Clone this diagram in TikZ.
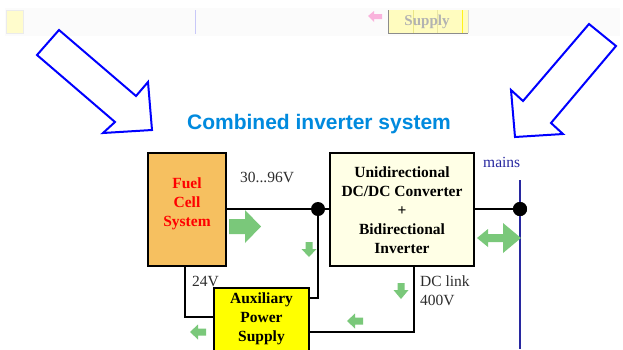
\documentclass[tikz,border=0pt]{standalone}
\usepackage{fontspec}
\setmainfont{Liberation Serif}
\newfontfamily\titlefont{Liberation Sans}
\definecolor{gfill}{RGB}{122,200,122}
\definecolor{fcorange}{RGB}{246,192,96}
\definecolor{cream}{RGB}{255,255,230}
\definecolor{apsyellow}{RGB}{255,255,0}
\definecolor{titleblue}{RGB}{0,138,222}
\definecolor{navy}{RGB}{40,40,160}
\definecolor{lblgray}{RGB}{45,45,45}
\definecolor{lavender}{RGB}{200,200,248}
\tikzset{
  boxnode/.style={draw=black, line width=1.2pt, inner sep=0pt, align=center},
  boldtxt/.style={font=\fontsize{15.5}{19}\selectfont\bfseries, align=center},
  lbltxt/.style={font=\fontsize{15.5}{19}\selectfont, text=lblgray, anchor=west, inner sep=0pt},
  wire/.style={draw=black, line width=1.5pt},
  junction/.style={circle, fill=black, minimum size=14pt, inner sep=0pt},
  garrow/.style={fill=gfill, draw=none},
  hollow/.style={draw=blue, line width=2pt, line join=miter, fill=white},
}
\begin{document}
\begin{tikzpicture}[x=1pt,y=-1pt]
\useasboundingbox (0,0) rectangle (623,349);
\fill[white] (0,0) rectangle (623,349);
% faded remnants at the top
\fill[black!1.5] (5,8) rectangle (620,36);
\filldraw[fill=yellow!20, draw=black!8] (6,10) rectangle (23,33);
\draw[lavender, line width=1pt] (195,10) -- (195,34);
\fill[magenta!30] (368,16) -- (374,11) -- (374,14) -- (382,14) -- (382,19) -- (374,19) -- (374,22) -- cycle;
\fill[yellow!25] (388,10) rectangle (468,33);
\draw[black!45, line width=0.8pt] (388,10) -- (388,33) -- (468,33);
\draw[black!15, line width=0.6pt] (468,10) -- (468,33);
\draw[yellow!70!gray!60, line width=0.6pt] (413,10) -- (413,33);
\draw[yellow!60!gray!50, line width=0.6pt] (437,10) -- (437,33);
\draw[yellow!90, line width=0.8pt] (462,10) -- (462,33);
\node[font=\fontsize{15}{18}\selectfont\bfseries, text=black!30, inner sep=0pt] (ghostsupply) at (427,22) {Supply};

% hollow blue arrows
\draw[hollow] (59,30) -- (136,96) -- (148,82) -- (152,130) -- (103,133) -- (115,122) -- (37,55) -- cycle;
\draw[hollow] (589,24) -- (616,46) -- (551,123) -- (563,134) -- (515,137) -- (511,90) -- (523,101) -- cycle;

% title
\node[font=\titlefont\fontsize{21}{24}\selectfont\bfseries, text=titleblue, inner sep=0pt] (title) at (319,124) {Combined inverter system};

% boxes
\node[boxnode, fill=fcorange, minimum width=78pt, minimum height=113pt] (fc) at (187,209.5) {};
\node[boldtxt, text=red] (fctext) at (187,204) {Fuel\\Cell\\System};
\node[boxnode, fill=cream, minimum width=144pt, minimum height=113pt] (conv) at (402,209.5) {};
\node[boldtxt] (convtext) at (402,210) {Unidirectional\\DC/DC Converter\\+\\Bidirectional\\Inverter};
\node[boxnode, fill=apsyellow, minimum width=95pt, minimum height=74pt] (aps) at (261.5,325) {};
\node[boldtxt] (apstext) at (261.5,319) {Auxiliary\\Power\\Supply};

% junctions and coordinates
\node[junction] (dotL) at (318,209) {};
\node[junction] (dotR) at (520,209) {};
\coordinate (apsR1) at (309,298);
\coordinate (apsR2) at (309,332);
\coordinate (apsL) at (214,317);
\coordinate (fcB) at (185,266);
\coordinate (convB) at (414,266);
\coordinate (mainsTop) at (520,180);
\coordinate (mainsBot) at (520,349);

% wires
\draw[wire] (fc.east |- dotL) -- (dotL) -- (conv.west |- dotL);
\draw[wire] (dotL) |- (apsR1);
\draw[wire] (fcB) |- (apsL);
\draw[wire] (convB) |- (apsR2);
\draw[wire] (conv.east |- dotR) -- (dotR);
\draw[navy, line width=1.8pt] (mainsTop) -- (mainsBot);
\node[junction] (dotR2) at (520,209) {};

% labels
\node[lbltxt] (v1) at (240,177) {30...96V};
\node[lbltxt] (v2) at (192,281) {24V};
\node[lbltxt] (v3) at (420,281) {DC link};
\node[lbltxt] (v4) at (420,300) {400V};
\node[lbltxt, text=navy] (mains) at (483,162) {mains};

% green flow arrows
\fill[garrow] (229,219) -- (245,219) -- (245,210) -- (261,226.5) -- (245,243) -- (245,234) -- (229,234) -- cycle;
\fill[garrow] (305.5,242) -- (312.5,242) -- (312.5,249) -- (316.5,249) -- (309,257) -- (301.5,249) -- (305.5,249) -- cycle;
\fill[garrow] (397.5,283) -- (404.5,283) -- (404.5,290) -- (408.5,290) -- (401,299) -- (393.5,290) -- (397.5,290) -- cycle;
\fill[garrow] (190,332) -- (198,324.5) -- (198,328.5) -- (206,328.5) -- (206,335.5) -- (198,335.5) -- (198,339.5) -- cycle;
\fill[garrow] (347,321) -- (355,313.5) -- (355,317.5) -- (363,317.5) -- (363,324.5) -- (355,324.5) -- (355,328.5) -- cycle;
\fill[garrow] (477,238) -- (488,229) -- (488,234) -- (503,234) -- (503,223) -- (521,238) -- (503,253) -- (503,242) -- (488,242) -- (488,247) -- cycle;
\end{tikzpicture}
\end{document}
